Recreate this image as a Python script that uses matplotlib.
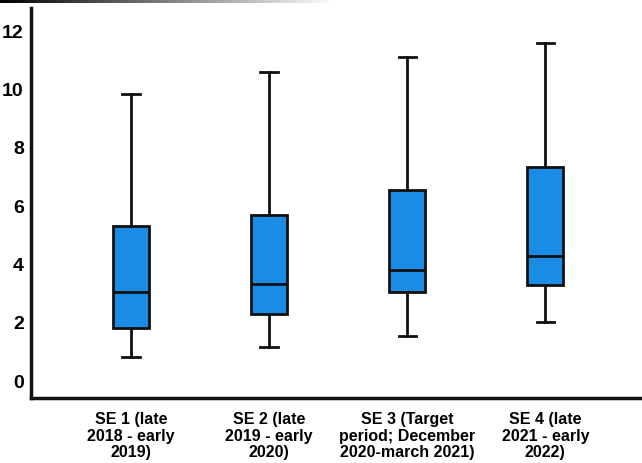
import numpy as np
import matplotlib
matplotlib.use('Agg')
import matplotlib.pyplot as plt
from matplotlib import rcParams

rcParams['font.family'] = ['Liberation Sans Narrow', 'Liberation Sans', 'DejaVu Sans']
rcParams['font.weight'] = 'bold'

labels = ['SE 1 (late\n2018 - early\n2019)',
          'SE 2 (late\n2019 - early\n2020)',
          'SE 3 (Target\nperiod; December\n2020-march 2021)',
          'SE 4 (late\n2021 - early\n2022)']
whisker_low = [0.82, 1.17, 1.54, 2.02]
q1 = [1.82, 2.30, 3.05, 3.29]
median = [3.05, 3.33, 3.81, 4.29]
q3 = [5.31, 5.69, 6.55, 7.34]
whisker_high = [9.84, 10.59, 11.11, 11.59]
yticks = [0, 2, 4, 6, 8, 10, 12]

stats = []
for i in range(len(labels)):
    stats.append({'whislo': whisker_low[i], 'q1': q1[i], 'med': median[i],
                  'q3': q3[i], 'whishi': whisker_high[i], 'fliers': []})

fig = plt.figure(figsize=(6.42, 4.63), dpi=100)
ax = fig.add_axes([0.048, 0.1404, 0.952, 0.8423])

positions = np.arange(1, len(labels) + 1)
bp = ax.bxp(stats, positions=positions, widths=0.26, capwidths=0.125,
            patch_artist=True, showfliers=False,
            boxprops=dict(facecolor='#1A8CE6', edgecolor='#111111', linewidth=2),
            medianprops=dict(color='#111111', linewidth=2),
            whiskerprops=dict(color='#111111', linewidth=2),
            capprops=dict(color='#111111', linewidth=2))

ax.set_xlim(0.275, 4.70)
ax.set_ylim(-0.58, 12.79)
ax.set_yticks(yticks)
ax.set_yticklabels([str(t) for t in yticks], fontsize=14, fontweight='bold')
ax.set_xticks(positions)
ax.set_xticklabels(labels, fontsize=11.5, fontweight='bold', linespacing=1.15)
ax.tick_params(axis='both', length=0)
ax.tick_params(axis='y', pad=5)
ax.tick_params(axis='x', pad=10)

for side in ['top', 'right']:
    ax.spines[side].set_visible(False)
for side in ['left', 'bottom']:
    ax.spines[side].set_linewidth(2.5)
    ax.spines[side].set_color('#111111')

# dark scan edge at the very top
band = fig.add_axes([0, 0.993, 0.52, 0.007])
grad = np.linspace(0, 1, 256).reshape(1, -1)
band.imshow(grad, aspect='auto', cmap='gray', vmin=0, vmax=1)
band.axis('off')

fig.savefig('out.png', dpi=100)
